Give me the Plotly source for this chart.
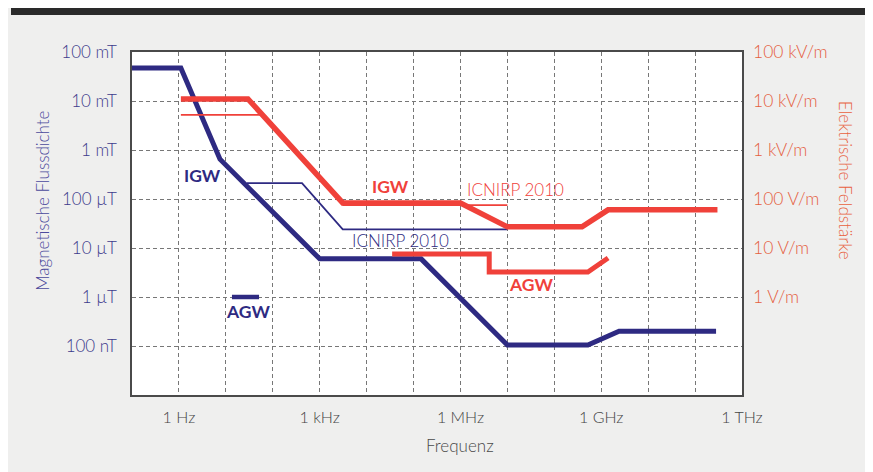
import plotly.graph_objects as go

# ---- data (frequency in Hz, magnetic flux density in T, electric field in V/m) ----
igw_b_freq = [0.1, 1.1, 7.5, 1000, 1.45e5, 1.0e7, 5.2e8, 2.4e9, 2.8e11]
igw_b_val = [4.7e-2, 4.7e-2, 6.5e-4, 6.0e-6, 6.0e-6, 1.05e-7, 1.05e-7, 2.0e-7, 2.0e-7]

icnirp_b_freq = [28, 420, 3.1e3, 1.0e7]
icnirp_b_val = [2.1e-4, 2.1e-4, 2.4e-5, 2.4e-5]

agw_b_freq = [13.5, 51]
agw_b_val = [1.0e-6, 1.0e-6]

igw_e_freq = [1.1, 29.6, 3.1e3, 1.0e6, 1.0e7, 3.9e8, 1.4e9, 3.0e11]
igw_e_val = [1.1e4, 1.1e4, 83, 83, 27, 27, 60, 60]

icnirp_e_freq = [1.1, 59, 3.2e3, 1.0e7]
icnirp_e_val = [5.2e3, 5.2e3, 75, 75]

agw_e_freq = [3.5e4, 4.1e6, 4.1e6, 5.2e8, 1.4e9]
agw_e_val = [7.55, 7.55, 3.24, 3.24, 6.25]

x_tick_vals = [1e0, 1e1, 1e2, 1e3, 1e4, 1e5, 1e6, 1e7, 1e8, 1e9, 1e10, 1e11, 1e12]
x_tick_text = ["1 Hz", "", "", "1 kHz", "", "", "1 MHz", "", "", "1 GHz", "", "", "1 THz"]

b_tick_vals = [1e-7, 1e-6, 1e-5, 1e-4, 1e-3, 1e-2, 1e-1]
b_tick_text = ["100 nT", "1 µT", "10 µT", "100 µT", "1 mT", "10 mT", "100 mT"]

e_tick_vals = [1e0, 1e1, 1e2, 1e3, 1e4, 1e5]
e_tick_text = ["1 V/m", "10 V/m", "100 V/m", "1 kV/m", "10 kV/m", "100 kV/m"]

BLUE = "#2e2a82"
RED = "#f0413a"
FONT = "Lato"

fig = go.Figure()

fig.add_trace(go.Scatter(x=igw_b_freq, y=igw_b_val, mode="lines",
                         line=dict(color=BLUE, width=5), hoverinfo="skip"))
fig.add_trace(go.Scatter(x=icnirp_b_freq, y=icnirp_b_val, mode="lines",
                         line=dict(color=BLUE, width=1.8), hoverinfo="skip"))
fig.add_trace(go.Scatter(x=agw_b_freq, y=agw_b_val, mode="lines",
                         line=dict(color=BLUE, width=4.5), hoverinfo="skip"))
fig.add_trace(go.Scatter(x=icnirp_e_freq, y=icnirp_e_val, mode="lines", yaxis="y2",
                         line=dict(color=RED, width=1.8), hoverinfo="skip"))
fig.add_trace(go.Scatter(x=igw_e_freq, y=igw_e_val, mode="lines", yaxis="y2",
                         line=dict(color=RED, width=5.5), hoverinfo="skip"))
fig.add_trace(go.Scatter(x=agw_e_freq, y=agw_e_val, mode="lines", yaxis="y2",
                         line=dict(color=RED, width=5), hoverinfo="skip"))

grid = dict(showgrid=True, gridcolor="#777777", gridwidth=1, griddash="4px,3px")

# page body has an 8px default margin: figure is 865x464 placed at (8, 8)
fig.update_layout(
    width=865, height=464,
    margin=dict(l=124, r=131, t=44, b=77),
    paper_bgcolor="#efefee",
    plot_bgcolor="#ffffff",
    showlegend=False,
    font=dict(family=FONT),
    xaxis=dict(type="log", range=[-1, 12], tickvals=x_tick_vals, ticktext=x_tick_text,
               ticks="", ticklabelstandoff=7,
               tickfont=dict(family=FONT, size=16, color="#444444", weight=300),
               showline=True, linecolor="#4a4a4a", linewidth=1.5, mirror=True,
               zeroline=False, **grid),
    yaxis=dict(type="log", range=[-8, -1], tickvals=b_tick_vals, ticktext=b_tick_text,
               ticks="", ticklabelstandoff=10,
               tickfont=dict(family=FONT, size=17, color="#3d3b8c", weight=300),
               showline=True, linecolor="#4a4a4a", linewidth=1.5, mirror=True,
               zeroline=False, **grid),
    yaxis2=dict(type="log", range=[-2, 5], overlaying="y", side="right",
                tickvals=e_tick_vals, ticktext=e_tick_text, ticks="", ticklabelstandoff=10,
                tickfont=dict(family=FONT, size=17.5, color="#e5603f", weight=300),
                showgrid=False, zeroline=False, showline=False),
)

# axis titles
fig.add_annotation(text="Frequenz", xref="paper", yref="paper", x=0.538, y=-0.146,
                   xanchor="center", yanchor="middle", showarrow=False,
                   font=dict(family=FONT, size=17, color="#4a4a4a", weight=300))
fig.add_annotation(text="Magnetische Flussdichte", xref="paper", yref="paper",
                   x=-0.146, y=0.566, xanchor="center", yanchor="middle",
                   textangle=-90, showarrow=False,
                   font=dict(family=FONT, size=17, color="#4b4a9c", weight=300))
fig.add_annotation(text="Elektrische Feldstärke", xref="paper", yref="paper",
                   x=1.169, y=0.627, xanchor="center", yanchor="middle",
                   textangle=90, showarrow=False,
                   font=dict(family=FONT, size=17, color="#e8613f", weight=300))

# series labels (positions in log10 data coordinates)
labels = [
    ("IGW", 0.513, -3.53, "y", BLUE, 700),
    ("AGW", 1.472, -6.286, "y", BLUE, 700),
    ("ICNIRP 2010", 4.712, -4.837, "y", BLUE, 300),
    ("IGW", 4.50, 2.265, "y2", RED, 700),
    ("ICNIRP 2010", 7.163, 2.204, "y2", RED, 300),
    ("AGW", 7.504, 0.265, "y2", RED, 700),
]
for text, lx, ly, yr, col, w in labels:
    fig.add_annotation(text=text, x=lx, y=ly, xref="x", yref=yr, showarrow=False,
                       xanchor="center", yanchor="middle",
                       font=dict(family=FONT, size=17 if w == 300 else 17.5, color=col, weight=w))

# top dark band of the page
fig.add_shape(type="rect", xref="paper", yref="paper", x0=(3 - 124) / 610, x1=1.3,
              y0=(387 - 7) / 343, y1=1.3, fillcolor="#2a2a2a", line_width=0)

fig.write_html("out.html")
